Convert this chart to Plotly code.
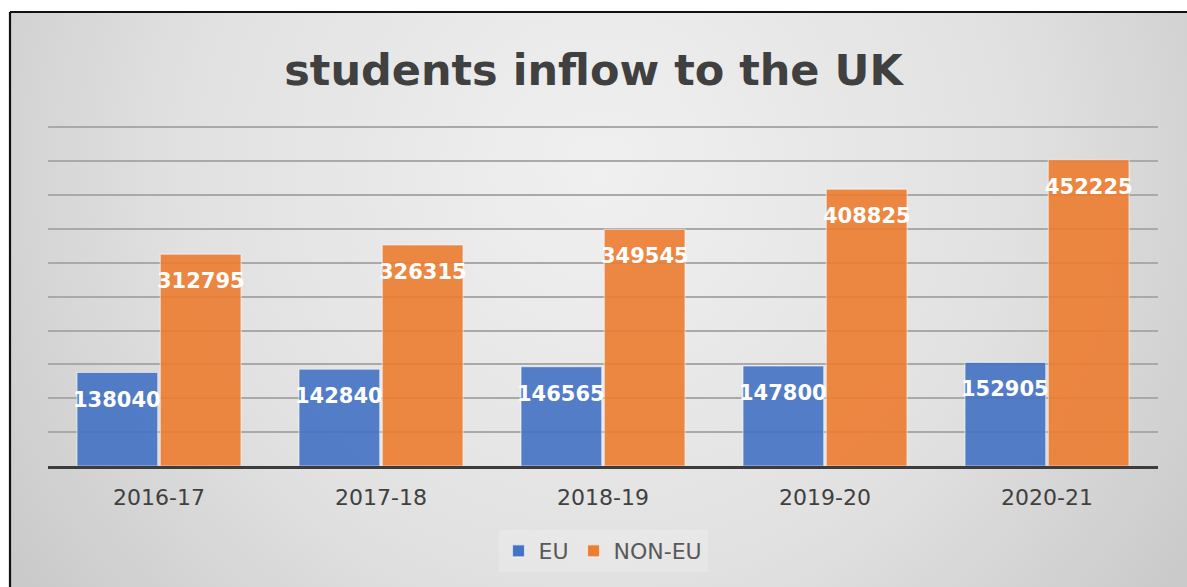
import base64
import plotly.graph_objects as go

years = ["2016-17", "2017-18", "2018-19", "2019-20", "2020-21"]
eu = [138040, 142840, 146565, 147800, 152905]
non_eu = [312795, 326315, 349545, 408825, 452225]

W, H = 1187, 587
L, R, B = 48, 29, 121
y_max = 505000
px_per_unit = 339 / 500000
T = round(H - B - y_max * px_per_unit)
plot_w, plot_h = W - L - R, H - T - B

# Chart-area backdrop: white page, black frame at top/left, soft radial grey fill
svg = f"""<svg xmlns='http://www.w3.org/2000/svg' width='{W}' height='{H}' viewBox='0 0 {W} {H}'>
<defs><radialGradient id='g' gradientUnits='userSpaceOnUse' cx='600' cy='170' r='760'>
<stop offset='0' stop-color='#f0f0f0'/><stop offset='0.55' stop-color='#e1e1e1'/><stop offset='1' stop-color='#c6c6c6'/>
</radialGradient></defs>
<rect x='0' y='0' width='{W}' height='{H}' fill='#ffffff'/>
<rect x='11' y='13' width='{W}' height='{H}' fill='url(#g)'/>
<line x1='10' y1='12' x2='{W}' y2='12' stroke='#111' stroke-width='2.2'/>
<line x1='10' y1='12' x2='10' y2='{H}' stroke='#111' stroke-width='2.2'/>
</svg>"""
bg_uri = "data:image/svg+xml;base64," + base64.b64encode(svg.encode()).decode()

FONT = "DejaVu Sans"

fig = go.Figure()
fig.add_trace(go.Bar(name="EU", x=years, y=eu, marker=dict(color="#4472C4", opacity=0.9,
                     line=dict(color="rgba(255,255,255,0.55)", width=1.2))))
fig.add_trace(go.Bar(name="NON-EU", x=years, y=non_eu, marker=dict(color="#ED7D31", opacity=0.9,
                     line=dict(color="rgba(255,255,255,0.55)", width=1.2))))

bargap = 0.25
slot = plot_w / len(years) * (1 - bargap) / 2
annotations = []
for vals, sign in ((eu, -1), (non_eu, 1)):
    for yr, v in zip(years, vals):
        annotations.append(dict(x=yr, y=v, xref="x", yref="y", text=str(v), showarrow=False,
                                xshift=sign * slot / 2, yshift=-27, yanchor="middle",
                                font=dict(family=FONT, size=21, color="white", weight="bold")))

fig.update_layout(
    width=W, height=H,
    margin=dict(l=L, r=R, t=T, b=B),
    paper_bgcolor="white", plot_bgcolor="rgba(0,0,0,0)",
    barmode="group", bargap=bargap, bargroupgap=0.03,
    title=dict(text="students inflow to the UK", x=0.5, xanchor="center",
               y=1 - 70 / H, yanchor="middle", yref="container",
               font=dict(family=FONT, size=43, color="#404040", weight="bold")),
    xaxis=dict(showline=True, linecolor="#3c3c3c", linewidth=3, showgrid=False,
               tickfont=dict(family=FONT, size=22, color="#404040"),
               ticks="", ticklabelstandoff=10),
    yaxis=dict(range=[0, y_max], dtick=50000, showticklabels=False, showgrid=True,
               gridcolor="#a9a9a9", gridwidth=1.5, zeroline=False),
    legend=dict(orientation="h", x=0.5, xanchor="center", y=(-(551 - (H - B)) / plot_h),
                yanchor="middle", bgcolor="rgba(240,240,240,0.35)",
                font=dict(family=FONT, size=22, color="#595959")),
    annotations=annotations,
    images=[dict(source=bg_uri, xref="paper", yref="paper", x=-L / plot_w, y=1 + T / plot_h,
                 sizex=W / plot_w, sizey=H / plot_h, xanchor="left", yanchor="top",
                 sizing="stretch", layer="below")],
    showlegend=True,
)

fig.write_html("out.html")
